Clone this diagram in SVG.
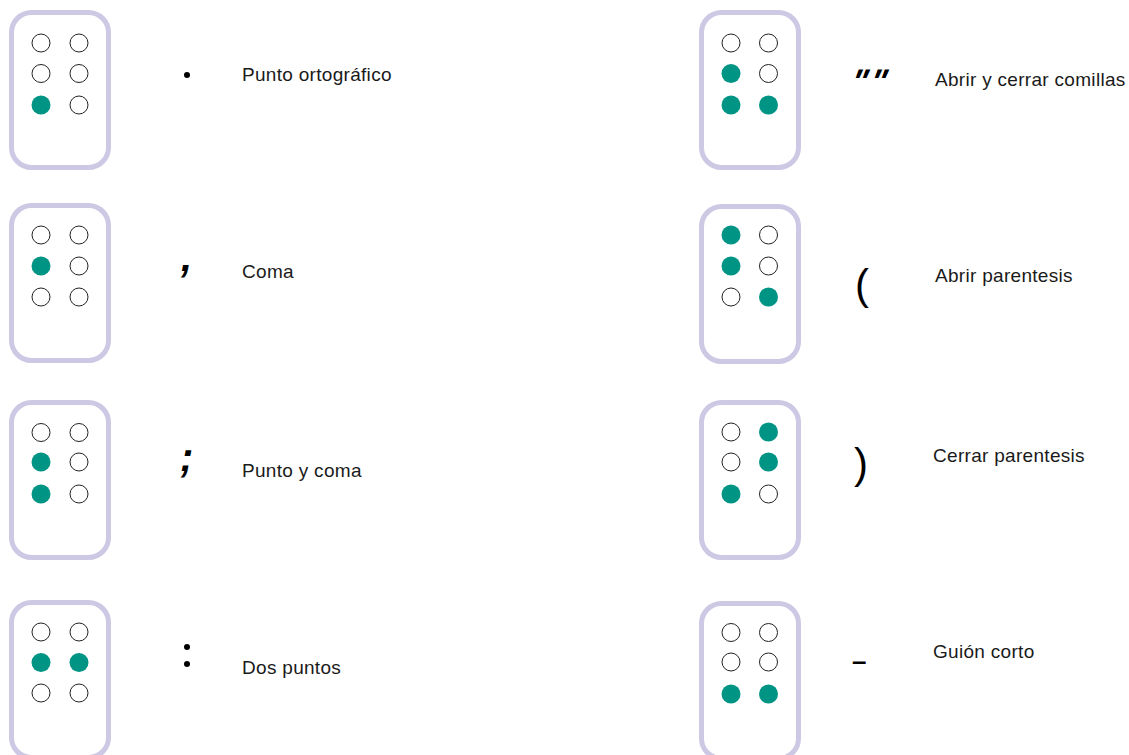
<svg xmlns="http://www.w3.org/2000/svg" width="1129" height="755" viewBox="0 0 1129 755">
<style>
.card{fill:#fff;stroke:#cdc8e4;stroke-width:5}
.on{fill:#009485}
.off{fill:#fff;stroke:#222;stroke-width:1}
.lbl{font-family:"Liberation Sans",Arial,sans-serif;font-size:19px;letter-spacing:0.3px;fill:#1a1a1a}
.sym{font-family:"Liberation Sans",Arial,sans-serif;fill:#000}
</style>
<defs>
<rect id="cardshape" class="card" x="0" y="0" width="97" height="155" rx="20"/>
<circle id="dOn" class="on" r="9.5"/>
<circle id="dOff" class="off" r="9"/>
</defs>
<rect width="1129" height="755" fill="#fff"/>

<g id="punto">
<use href="#cardshape" x="11.5" y="12.5"/>
<use href="#dOff" x="41" y="43"/><use href="#dOff" x="79" y="43"/>
<use href="#dOff" x="41" y="73.5"/><use href="#dOff" x="79" y="73.5"/>
<use href="#dOn" x="41" y="105"/><use href="#dOff" x="79" y="105"/>
<circle cx="187" cy="75" r="3" fill="#000"/>
<text class="lbl" x="242" y="81">Punto ortográfico</text>
</g>

<g id="coma">
<use href="#cardshape" x="11.5" y="205.5"/>
<use href="#dOff" x="41" y="235"/><use href="#dOff" x="79" y="235"/>
<use href="#dOn" x="41" y="266"/><use href="#dOff" x="79" y="266"/>
<use href="#dOff" x="41" y="297"/><use href="#dOff" x="79" y="297"/>
<text class="sym" x="181" y="271" font-size="40" font-weight="bold" font-style="italic">,</text>
<text class="lbl" x="242" y="278">Coma</text>
</g>

<g id="puntoycoma">
<use href="#cardshape" x="11.5" y="402.5"/>
<use href="#dOff" x="41" y="432.5"/><use href="#dOff" x="79" y="432.5"/>
<use href="#dOn" x="41" y="462"/><use href="#dOff" x="79" y="462"/>
<use href="#dOn" x="41" y="494"/><use href="#dOff" x="79" y="494"/>
<text class="sym" x="180" y="471" font-size="40" font-weight="bold" font-style="italic">;</text>
<text class="lbl" x="242" y="477">Punto y coma</text>
</g>

<g id="dospuntos">
<use href="#cardshape" x="11.5" y="602.5"/>
<use href="#dOff" x="41" y="632"/><use href="#dOff" x="79" y="632"/>
<use href="#dOn" x="41" y="662.5"/><use href="#dOn" x="79" y="662.5"/>
<use href="#dOff" x="41" y="693"/><use href="#dOff" x="79" y="693"/>
<circle cx="187" cy="647" r="3" fill="#000"/>
<circle cx="187" cy="664" r="3" fill="#000"/>
<text class="lbl" x="242" y="674">Dos puntos</text>
</g>

<g id="comillas">
<use href="#cardshape" x="701.5" y="12.5"/>
<use href="#dOff" x="731" y="43"/><use href="#dOff" x="768.5" y="43"/>
<use href="#dOn" x="731" y="73.5"/><use href="#dOff" x="768.5" y="73.5"/>
<use href="#dOn" x="731" y="105"/><use href="#dOn" x="768.5" y="105"/>
<text class="sym" x="0" y="0" font-size="34" font-weight="bold" letter-spacing="3" transform="translate(847 93) skewX(-22)">""</text>
<text class="lbl" x="935" y="86">Abrir y cerrar comillas</text>
</g>

<g id="abrirpar">
<use href="#cardshape" x="701.5" y="206.5"/>
<use href="#dOn" x="731" y="235"/><use href="#dOff" x="768.5" y="235"/>
<use href="#dOn" x="731" y="266"/><use href="#dOff" x="768.5" y="266"/>
<use href="#dOff" x="731" y="297"/><use href="#dOn" x="768.5" y="297"/>
<text class="sym" x="855" y="299" font-size="42">(</text>
<text class="lbl" x="935" y="282">Abrir parentesis</text>
</g>

<g id="cerrarpar">
<use href="#cardshape" x="701.5" y="402.5"/>
<use href="#dOff" x="731" y="432"/><use href="#dOn" x="768.5" y="432"/>
<use href="#dOff" x="731" y="462"/><use href="#dOn" x="768.5" y="462"/>
<use href="#dOn" x="731" y="494"/><use href="#dOff" x="768.5" y="494"/>
<text class="sym" x="854" y="478" font-size="42">)</text>
<text class="lbl" x="933" y="462">Cerrar parentesis</text>
</g>

<g id="guion">
<use href="#cardshape" x="701.5" y="603.5"/>
<use href="#dOff" x="731" y="632.5"/><use href="#dOff" x="768.5" y="632.5"/>
<use href="#dOff" x="731" y="662"/><use href="#dOff" x="768.5" y="662"/>
<use href="#dOn" x="731" y="694"/><use href="#dOn" x="768.5" y="694"/>
<text class="sym" x="852" y="670" font-size="26" font-weight="bold">–</text>
<text class="lbl" x="933" y="658">Guión corto</text>
</g>

<g id="connectors"/>
</svg>
